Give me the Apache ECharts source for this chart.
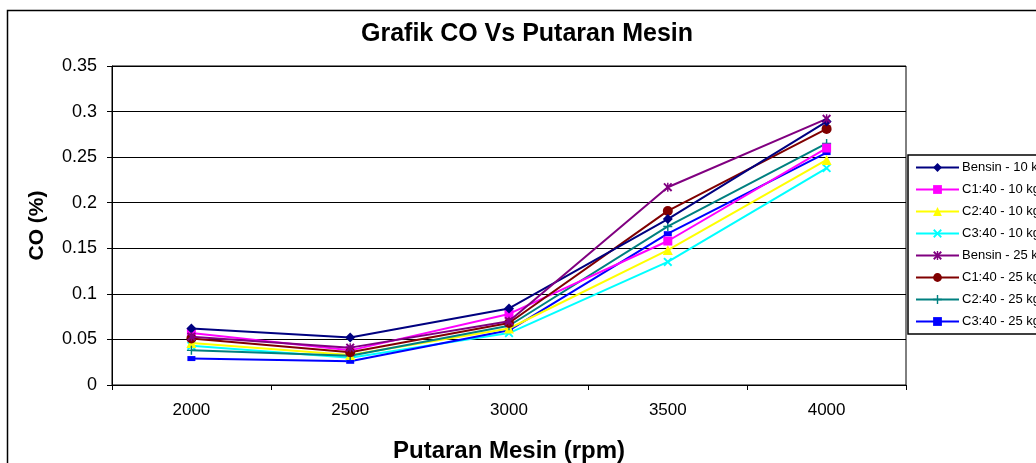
<!DOCTYPE html>
<html>
<head>
<meta charset="utf-8">
<script src="https://cdn.jsdelivr.net/npm/echarts@6/dist/echarts.min.js"></script>
<style>
html,body{margin:0;padding:0;background:#fff;}
#chart{width:1036px;height:463px;}
</style>
</head>
<body>
<div id="chart"></div>
<script>
const categories = ['2000', '2500', '3000', '3500', '4000'];
const seriesNames = ['Bensin - 10 kg', 'C1:40 - 10 kg', 'C2:40 - 10 kg', 'C3:40 - 10 kg',
  'Bensin - 25 kg', 'C1:40 - 25 kg', 'C2:40 - 25 kg', 'C3:40 - 25 kg'];
const bensin10 = [0.062, 0.052, 0.084, 0.182, 0.289];
const c1_10 = [0.057, 0.038, 0.078, 0.158, 0.260];
const c2_10 = [0.046, 0.033, 0.062, 0.148, 0.247];
const c3_10 = [0.043, 0.030, 0.057, 0.135, 0.238];
const bensin25 = [0.053, 0.041, 0.070, 0.217, 0.292];
const c1_25 = [0.051, 0.036, 0.068, 0.191, 0.281];
const c2_25 = [0.038, 0.032, 0.065, 0.174, 0.265];
const c3_25 = [0.029, 0.026, 0.060, 0.166, 0.255];
const yTicks = { min: 0, max: 0.35, interval: 0.05 };

const colors = ['#000080', '#FF00FF', '#FFFF00', '#00FFFF', '#800080', '#800000', '#008080', '#0000FF'];
const xPath = 'path://M0,1.5L1.5,0L5,3.5L8.5,0L10,1.5L6.5,5L10,8.5L8.5,10L5,6.5L1.5,10L0,8.5L3.5,5Z';
const starPath = 'path://M0,1.5L1.5,0L4.2,2.7L4.2,0L5.8,0L5.8,2.7L8.5,0L10,1.5L6.5,5L10,8.5L8.5,10L5.8,7.3L5.8,10L4.2,10L4.2,7.3L1.5,10L0,8.5L3.5,5Z';
const plusPath = 'path://M4.2,0H5.8V4.2H10V5.8H5.8V10H4.2V5.8H0V4.2H4.2Z';
const symbols = ['diamond', 'rect', 'triangle', xPath, starPath, 'circle', plusPath, 'rect'];
const symbolSizes = [10, 9, 10, 9, 9, 10, 9, [8, 5]];
const allData = [bensin10, c1_10, c2_10, c3_10, bensin25, c1_25, c2_25, c3_25];

const FONT = '"Liberation Sans", Arial, sans-serif';
const chart = echarts.init(document.getElementById('chart'));
chart.setOption({
  animation: false,
  backgroundColor: '#fff',
  graphic: [
    { type: 'rect', shape: { x: 7.5, y: 10.5, width: 1100, height: 500 }, style: { fill: 'none', stroke: '#000', lineWidth: 1.5 }, silent: true },
    { type: 'text', x: 527, y: 22, style: { text: 'Grafik CO Vs Putaran Mesin', font: 'bold 25px ' + FONT, fill: '#000', textAlign: 'center' } }
  ],
  grid: { left: 112, right: 130, top: 66, bottom: 78, show: true, borderColor: '#000', borderWidth: 1, backgroundColor: '#fff', outerBoundsMode: 'none', containLabel: false },
  legend: {
    orient: 'vertical', left: 908, top: 155,
    backgroundColor: '#fff', borderColor: '#000', borderWidth: 1.5,
    padding: [6, 6, 6, 7], itemWidth: 43, itemHeight: 11, itemGap: 9,
    textStyle: { fontFamily: FONT, fontSize: 13, color: '#000', padding: [0, 0, 0, -2] },
    data: seriesNames
  },
  xAxis: {
    type: 'category', data: categories, boundaryGap: true,
    name: 'Putaran Mesin (rpm)', nameLocation: 'middle', nameGap: 54,
    nameTextStyle: { fontFamily: FONT, fontSize: 24, fontWeight: 'bold', color: '#000' },
    axisLine: { lineStyle: { color: '#000', width: 1 } },
    axisTick: { show: true, inside: false, length: 5, interval: 0, lineStyle: { color: '#000' } },
    axisLabel: { fontFamily: FONT, fontSize: 17, color: '#000', margin: 17 },
    splitLine: { show: false }
  },
  yAxis: {
    type: 'value', min: yTicks.min, max: yTicks.max, interval: yTicks.interval,
    name: 'CO (%)', nameLocation: 'middle', nameGap: 64, nameRotate: 90,
    nameTextStyle: { fontFamily: FONT, fontSize: 21, fontWeight: 'bold', color: '#000' },
    axisLine: { show: true, lineStyle: { color: '#000', width: 1 } },
    axisTick: { show: true, inside: false, length: 5, lineStyle: { color: '#000' } },
    axisLabel: { fontFamily: FONT, fontSize: 18, color: '#000', margin: 15 },
    splitLine: { show: true, lineStyle: { color: '#000', width: 1 } }
  },
  series: seriesNames.map((name, i) => ({
    name: name, type: 'line', data: allData[i],
    symbol: symbols[i], symbolSize: symbolSizes[i],
    itemStyle: { color: colors[i] },
    lineStyle: { color: colors[i], width: 2 },
    z: 10 - (i % 4)
  }))
});
</script>
</body>
</html>
